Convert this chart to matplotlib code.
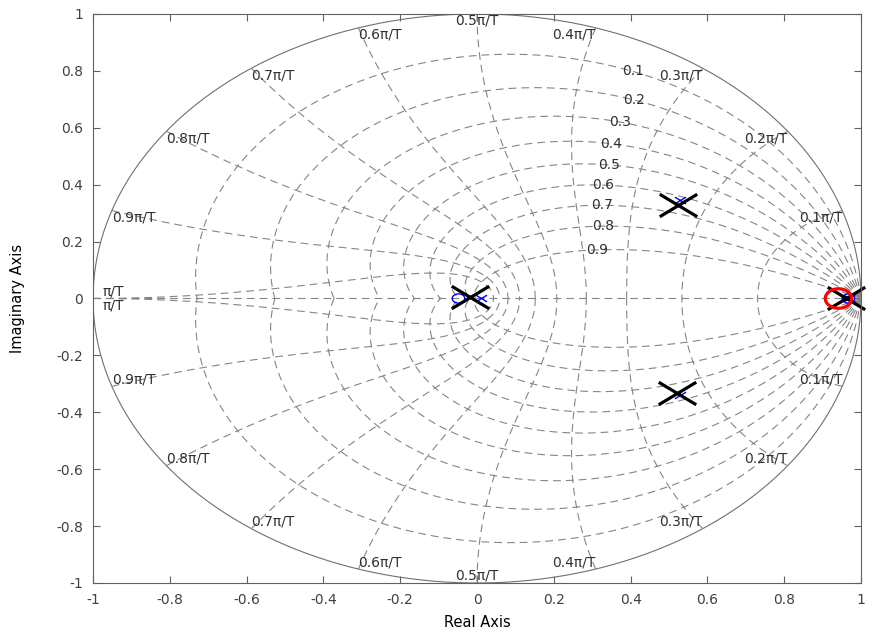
#!/usr/bin/env python3
"""
Pole-zero map in the z-plane with the damping / natural frequency grid.
"""
import numpy as np
import matplotlib
matplotlib.use("Agg")
import matplotlib.pyplot as plt
from matplotlib.path import Path

plt.rcParams['font.family'] = ['DejaVu Sans']

# damping ratios and natural frequencies (units of pi/T) of the grid
zetas = [0.1, 0.2, 0.3, 0.4, 0.5, 0.6, 0.7, 0.8, 0.9]
wn_fracs = [0.1, 0.2, 0.3, 0.4, 0.5, 0.6, 0.7, 0.8, 0.9, 1.0]
wn_labels = ['0.1', '0.2', '0.3', '0.4', '0.5', '0.6', '0.7', '0.8', '0.9', '']
# where along each damping curve its label sits (angle in rad)
zeta_label_theta = [1.10, 1.04, 1.03, 1.00, 0.94, 0.88, 0.79, 0.66, 0.50]

ticks = [-1, -0.8, -0.6, -0.4, -0.2, 0, 0.2, 0.4, 0.6, 0.8, 1]
tick_labels = ['-1', '-0.8', '-0.6', '-0.4', '-0.2', '0',
               '0.2', '0.4', '0.6', '0.8', '1']

# pzmap output (blue) and the highlighted poles / zeros
pole_re = [0.01, 0.529, 0.529, 0.97]
pole_im = [0.0, 0.346, -0.339, 0.0]
zero_re = [-0.049, 0.965]
zero_im = [0.0, 0.0]
big_pole_re = [-0.018, 0.523, 0.520, 0.960]
big_pole_im = [0.006, 0.329, -0.333, 0.0]
big_zero_re = [0.941]
big_zero_im = [0.0]

GRID = '#858585'
TXT = '#303030'
DASH = (0, (7, 4.5))
FS = 10


def wide_x():
    verts = [(-1, -0.6), (1, 0.6), (-1, 0.6), (1, -0.6)]
    codes = [Path.MOVETO, Path.LINETO, Path.MOVETO, Path.LINETO]
    return Path(verts, codes)


def flat_o():
    t = np.linspace(0, 2*np.pi, 60)
    return Path(np.column_stack([np.cos(t), 0.74*np.sin(t)]))


fig = plt.figure(figsize=(8.72, 6.33), dpi=100)
ax = fig.add_axes([0.1067, 0.079, 0.8807, 0.899])

# unit circle
t = np.linspace(0, 2*np.pi, 400)
ax.plot(np.cos(t), np.sin(t), color='#707070', lw=0.8)

# real axis
ax.plot([-1, 1], [0, 0], color=GRID, lw=0.8, ls=DASH)

# constant damping curves
theta = np.linspace(0, np.pi, 200)
for z, th in zip(zetas, zeta_label_theta):
    m = np.tan(np.arcsin(z))
    zz = np.exp(theta*(-m + 1j))
    ax.plot(zz.real, zz.imag, color=GRID, lw=0.8, ls=DASH)
    ax.plot(zz.real, -zz.imag, color=GRID, lw=0.8, ls=DASH)
    p = np.exp(th*(-m + 1j))
    ax.text(p.real, p.imag, f'{z:g}', ha='center', va='center',
            fontsize=FS, color=TXT)

# constant natural frequency curves
zeta = np.linspace(0, 1, 200)
for w, lab in zip(wn_fracs, wn_labels):
    wn = w*np.pi
    zz = np.exp(wn*(-zeta + 1j*np.sqrt(1 - zeta**2)))
    ax.plot(zz.real, zz.imag, color=GRID, lw=0.8, ls=DASH)
    ax.plot(zz.real, -zz.imag, color=GRID, lw=0.8, ls=DASH)
    txt = lab + '\u03c0/T'
    x, y = np.cos(wn), np.sin(wn)
    if abs(x) < 1e-6:
        ha = 'center'
    elif x > 0:
        ha = 'right'
    else:
        ha = 'left'
    if w == 1.0:
        ax.text(x + 0.025, 0, txt, ha=ha, va='bottom', fontsize=FS, color=TXT)
        ax.text(x + 0.025, 0, txt, ha=ha, va='top', fontsize=FS, color=TXT)
    else:
        ax.text(x, y, txt, ha=ha, va='top', fontsize=FS, color=TXT)
        ax.text(x, -y, txt, ha=ha, va='bottom', fontsize=FS, color=TXT)

# poles and zeros
ax.plot(zero_re, zero_im, ls='none', marker=flat_o(), ms=9, mfc='none',
        mec='#0000ff', mew=1.0)
ax.plot(pole_re, pole_im, ls='none', marker=wide_x(), ms=8, mec='#0000ff',
        mew=1.0)
ax.plot(big_pole_re, big_pole_im, ls='none', marker=wide_x(), ms=27,
        mec='black', mew=2.3, clip_on=False)
ax.plot(big_zero_re, big_zero_im, ls='none', marker=flat_o(), ms=19,
        mfc='none', mec='#ff0000', mew=2.3)

ax.set_xlim(-1, 1)
ax.set_ylim(-1, 1)
ax.set_xticks(ticks)
ax.set_yticks(ticks)
ax.set_xticklabels(tick_labels)
ax.set_yticklabels(tick_labels)
ax.tick_params(direction='in', top=True, right=True, length=5, width=0.8,
               colors='#606060', labelsize=FS, labelcolor='#404040', pad=7)
for s in ax.spines.values():
    s.set_color('#606060')
    s.set_linewidth(0.8)

ax.set_xlabel('Real Axis', fontsize=10.5, color='black')
ax.set_ylabel('Imaginary Axis', fontsize=10.5, color='black')
ax.xaxis.set_label_coords(0.5, -0.057)
ax.yaxis.set_label_coords(-0.088, 0.5)

fig.savefig('out.png', dpi=100)
